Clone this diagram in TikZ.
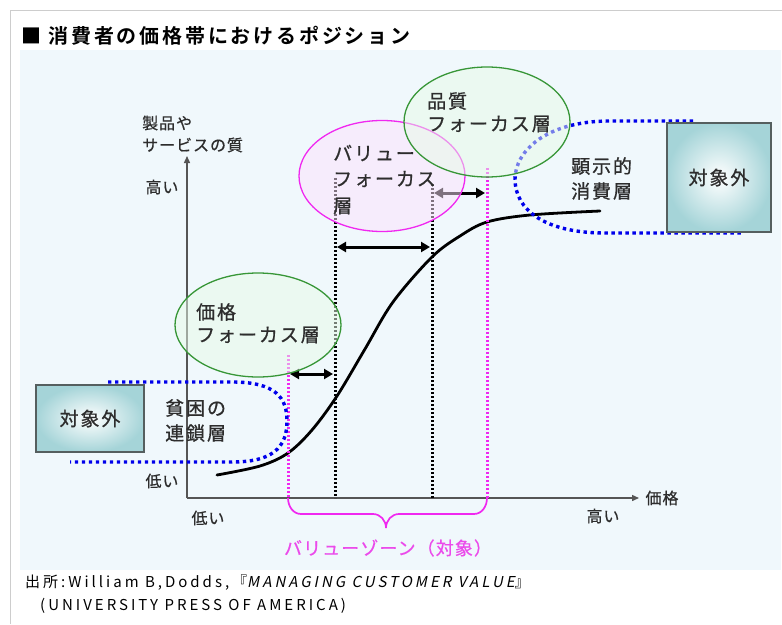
\documentclass[tikz,border=0pt]{standalone}
\usepackage{fontspec}
\setmainfont{Noto Sans CJK JP}
\newfontfamily\jpfont[LetterSpace=10,FakeBold=0.8]{Noto Sans CJK JP}
\newfontfamily\axfont[LetterSpace=6,FakeBold=0.6]{Noto Sans CJK JP}
\newfontfamily\jpbold[LetterSpace=14]{Noto Sans CJK JP Bold}
\newfontfamily\footfont[LetterSpace=20]{Noto Sans CJK JP}
\newfontfamily\footslant[LetterSpace=20,FakeSlant=0.2]{Noto Sans CJK JP}
\usetikzlibrary{arrows.meta,shapes.geometric}
\definecolor{panelbg}{RGB}{240,248,252}
\definecolor{framegray}{RGB}{205,205,205}
\definecolor{axisgray}{RGB}{85,85,85}
\definecolor{txt}{RGB}{45,45,45}
\definecolor{mag}{RGB}{240,40,240}
\definecolor{magtxt}{RGB}{235,75,235}
\definecolor{grn}{RGB}{55,150,55}
\definecolor{grnfill}{RGB}{232,250,232}
\definecolor{pinkfill}{RGB}{253,226,253}
\definecolor{dotblue}{RGB}{0,0,235}
\definecolor{boxteal}{RGB}{165,212,216}
\definecolor{boxedge}{RGB}{85,95,95}
\tikzset{
  lbl/.style={anchor=west, text=txt, font=\jpfont\fontsize{19}{19}\selectfont, inner sep=0},
  axlbl/.style={anchor=center, text=txt, font=\axfont\fontsize{16}{16}\selectfont, inner sep=0},
  axisline/.style={draw=axisgray, line width=1.4pt, -{Triangle[length=7pt,width=6pt]}},
  blkdots/.style={draw=black, line width=3pt, dash pattern=on 2pt off 2pt},
  magdots/.style={draw=mag, line width=3pt, dash pattern=on 2pt off 2pt},
  bluedots/.style={draw=dotblue, line width=3.4pt, dash pattern=on 3.4pt off 3.6pt},
  dblarrow/.style={draw=black, line width=3pt, {Triangle[length=9pt,width=10pt]}-{Triangle[length=9pt,width=10pt]}},
  greenell/.style={ellipse, draw=grn, line width=1.3pt, fill=grnfill, fill opacity=0.5, inner sep=0},
  pinkell/.style={ellipse, draw=mag, line width=1.3pt, fill=pinkfill, fill opacity=0.5, inner sep=0},
  outbox/.style={draw=boxedge, line width=1.4pt, inner color=white, outer color=boxteal, inner sep=0},
}
\begin{document}
\begin{tikzpicture}[x=1pt,y=-1pt]
\useasboundingbox (0,0) rectangle (782,624);
\fill[white] (0,0) rectangle (782,624);
\draw[framegray, line width=1pt] (10,624) -- (10,10) -- (782,10);
\fill[panelbg] (20,50) rectangle (781,570);

% title
\node[anchor=west, inner sep=0, text=black, font=\jpbold\fontsize{20}{20}\selectfont] (title) at (21,36) {■ 消費者の価格帯におけるポジション};

% axes
\coordinate (O) at (187,498);
\coordinate (ytop) at (187,156);
\coordinate (xend) at (639,498);
\draw[axisline] (O) -- (ytop);
\draw[axisline] (O) -- (xend);

% S curve
\draw[black, line width=2.8pt, line cap=round] plot[smooth, tension=0.55] coordinates
  {(217,475) (260,466) (288,453) (312,430) (337,396) (365,349) (393,302) (432,257) (460,236) (487,222) (530,215) (600,211)};

% vertical dotted lines
\coordinate (b1t) at (335,178); \coordinate (b1b) at (335,498);
\coordinate (b2t) at (432,184); \coordinate (b2b) at (432,498);
\coordinate (m1t) at (288,355); \coordinate (m1b) at (288,498);
\coordinate (m2t) at (487,168); \coordinate (m2b) at (487,498);
\draw[blkdots] (b1t) -- (b1b);
\draw[blkdots] (b2t) -- (b2b);
\draw[magdots] (m1t) -- (m1b);
\draw[magdots] (m2t) -- (m2b);

% double arrows
\coordinate (a1l) at (290,374); \coordinate (a1r) at (333,374);
\coordinate (a2l) at (337,247); \coordinate (a2r) at (430,247);
\coordinate (a3l) at (434,193); \coordinate (a3r) at (485,193);
\draw[dblarrow] (a1l) -- (a1r);
\draw[dblarrow] (a2l) -- (a2r);
\draw[dblarrow] (a3l) -- (a3r);

% brace
\draw[mag, line width=1.7pt] (m1b) to[out=-90,in=180] (301,514) -- (373,514)
  to[out=0,in=90] (386,528) to[out=90,in=180] (399,514) -- (474,514) to[out=0,in=-90] (m2b);

% blue dotted regions
\draw[bluedots] (693,121) -- (610,121) .. controls (545,121) and (515,152) .. (515,179)
  .. controls (515,210) and (545,233) .. (605,233) -- (742,233);
\draw[bluedots] (108,382) -- (232,382) .. controls (276,382) and (287,398) .. (287,421)
  .. controls (287,448) and (272,462) .. (232,462) -- (70,462);

% ellipses
\node[greenell, minimum width=166pt, minimum height=104pt] (pf) at (258,325) {};
\node[pinkell, minimum width=166pt, minimum height=111pt] (vf) at (382,176) {};
\node[greenell, minimum width=166pt, minimum height=110pt] (qf) at (487,122) {};

% out-of-target boxes
\node[outbox, minimum width=108pt, minimum height=67pt] (oL) at (90,418.5) {};
\node[outbox, minimum width=104pt, minimum height=109pt] (oR) at (719,177.5) {};
\node[lbl, anchor=center] (oLt) at (oL.center) {対象外};
\node[lbl, anchor=center] (oRt) at (oR.center) {対象外};

% labels
\node[lbl] (pf1) at (196,312) {価格};
\node[lbl] (pf2) at (196,335) {フォーカス層};
\node[lbl] (vf1) at (333,153) {バリュー};
\node[lbl] (vf2) at (333,179) {フォーカス};
\node[lbl] (vf3) at (333,206) {層};
\node[lbl] (qf1) at (427,101) {品質};
\node[lbl] (qf2) at (427,124) {フォーカス層};
\node[lbl] (cc1) at (571,166) {顕示的};
\node[lbl] (cc2) at (571,191) {消費層};
\node[lbl] (pv1) at (165,408) {貧困の};
\node[lbl] (pv2) at (165,433) {連鎖層};

% axis labels
\node[axlbl, anchor=west] (yq1) at (142,123) {製品や};
\node[axlbl, anchor=west] (yq2) at (142,145) {サービスの質};
\node[axlbl] (yhi) at (162,187) {高い};
\node[axlbl] (ylo) at (162,481) {低い};
\node[axlbl] (xlo) at (208,518) {低い};
\node[axlbl] (xhi) at (603,516) {高い};
\node[axlbl] (xq) at (662,498) {価格};

% value zone
\node[anchor=center, inner sep=0, text=magtxt, font=\axfont\fontsize{18}{18}\selectfont] (vz) at (388,548) {バリューゾーン（対象）};

% footer
\node[anchor=west, inner sep=0, text=black, font=\footfont\fontsize{15}{15}\selectfont] (f1) at (25,583) {出所:William B,Dodds,『{\footslant MANAGING CUSTOMER VALUE}』};
\node[anchor=west, inner sep=0, text=black, font=\footfont\fontsize{15}{15}\selectfont] (f2) at (40,606) {(UNIVERSITY PRESS OF AMERICA)};
\end{tikzpicture}
\end{document}
